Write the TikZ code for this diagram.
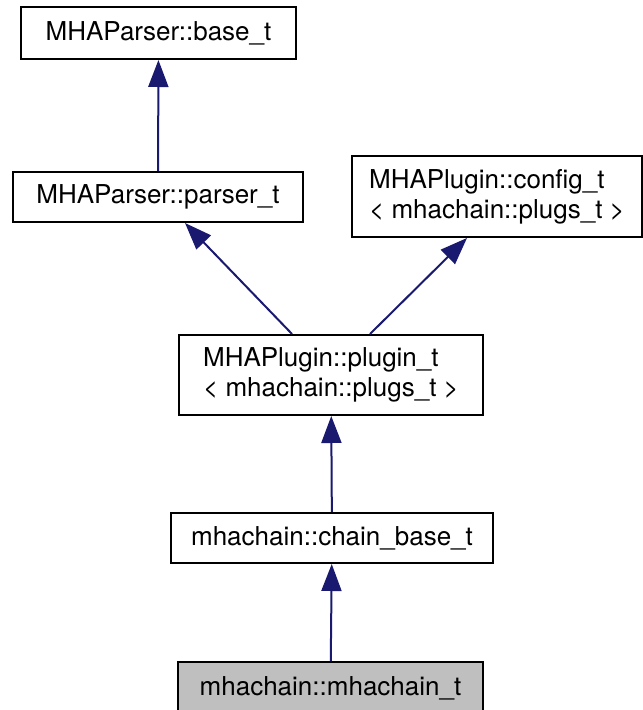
\documentclass[tikz,border=0pt]{standalone}
\usepackage{fontspec}
\setmainfont{TeX Gyre Heros}
\usepackage{tikz}
\usetikzlibrary{arrows.meta,positioning}
\definecolor{edgeblue}{RGB}{25,25,112}
\definecolor{nodegray}{RGB}{191,191,191}
\tikzset{
  cls/.style    ={rectangle, draw=black, line width=2pt, fill=white, align=center,
                  inner sep=0pt, font=\fontsize{26}{30}\selectfont},
  clsl/.style   ={cls, align=left},
  curcls/.style ={cls, fill=nodegray},
  inherit/.style={{Triangle[length=27pt,width=20pt]}-, line width=2pt, draw=edgeblue}
}
\begin{document}
\begin{tikzpicture}[x=1pt, y=-1pt]
\useasboundingbox (0,0) rectangle (643,710);
% parser side
\node[cls, minimum width=275, minimum height=52] (base) at (158.5,33) {MHAParser::base\_t};
\node[cls, minimum width=290, minimum height=50] (parser) at (158,197) {MHAParser::parser\_t};
% plugin side
\node[clsl, minimum width=290, minimum height=81] (config) at (497,196.5) {MHAPlugin::config\_t\\< mhachain::plugs\_t >};
\node[clsl, minimum width=304, minimum height=80] (plugin) at (331,375) {MHAPlugin::plugin\_t\\< mhachain::plugs\_t >};
% chain
\node[cls, minimum width=322, minimum height=50] (chainbase) at (332,538) {mhachain::chain\_base\_t};
\node[curcls, minimum width=305, minimum height=52] (mhachain) at (330.5,688) {mhachain::mhachain\_t};
\draw[inherit] (base) -- (parser);
\draw[inherit] ([xshift=27pt]parser.south) -- ([xshift=-39pt]plugin.north);
\draw[inherit] ([xshift=-30pt]config.south) -- ([xshift=39pt]plugin.north);
\draw[inherit] (plugin) -- (chainbase);
\draw[inherit] (chainbase) -- (mhachain);
\end{tikzpicture}
\end{document}
